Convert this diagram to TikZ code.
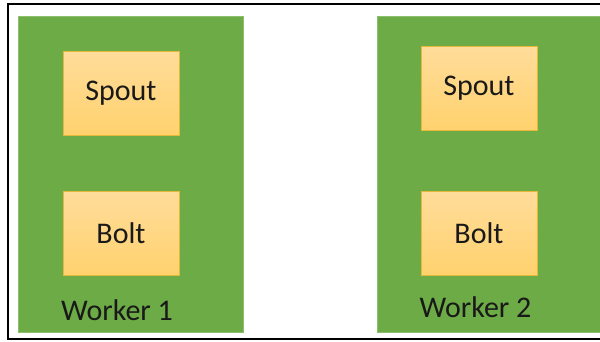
\documentclass[tikz,border=0pt]{standalone}
\usepackage{fontspec}
\setmainfont{Carlito}
\definecolor{wgreen}{HTML}{6DAB47}
\definecolor{wedge}{HTML}{8CBF6C}
\definecolor{ctop}{HTML}{FFDC9A}
\definecolor{cbot}{HTML}{FFD26E}
\definecolor{cedge}{HTML}{E6B83A}
\begin{document}
\begin{tikzpicture}[x=1pt,y=-1pt,
  worker/.style={fill=wgreen,draw=wedge,line width=0.6pt},
  comp/.style={draw=cedge,line width=0.8pt,top color=ctop,bottom color=cbot,
    minimum width=116pt,minimum height=84pt,inner sep=0pt,
    font=\fontsize{30}{32}\selectfont,text=black!90},
  wlabel/.style={font=\fontsize{30}{32}\selectfont,text=black!90,anchor=base,inner sep=0pt}]
\useasboundingbox (0,0) rectangle (600,341);
\clip (0,0) rectangle (600,341);
\draw[line width=2pt] (8,4) rectangle (606,339);
\path[worker] (18,16) rectangle (243,332);
\path[worker] (377,16) rectangle (606,332);
\node[comp] (spout1) at (121,93) {Spout};
\node[comp] (bolt1) at (121,233.5) {Bolt};
\node[comp] (spout2) at (479,88) {Spout};
\node[comp] (bolt2) at (479,233) {Bolt};
\node[wlabel] (w1) at (117,320) {Worker 1};
\node[wlabel] (w2) at (475.5,317) {Worker 2};
\end{tikzpicture}
\end{document}
